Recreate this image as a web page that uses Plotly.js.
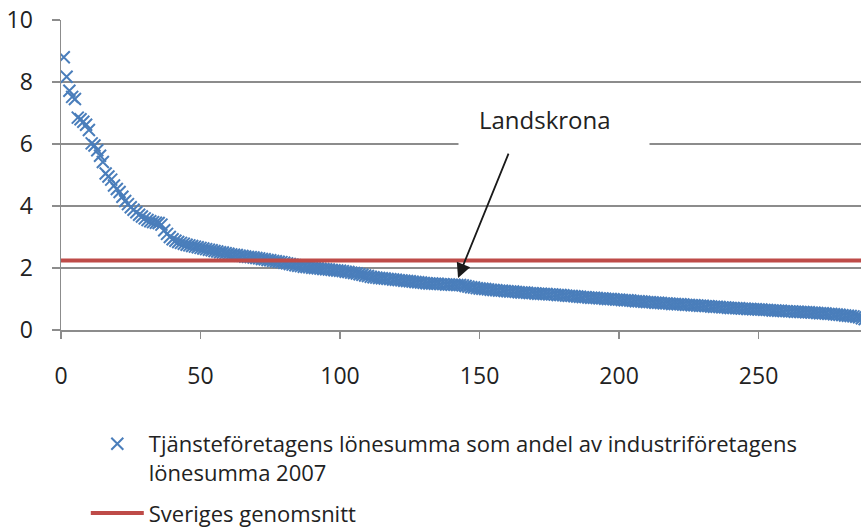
<!DOCTYPE html>
<html>
<head>
<meta charset="utf-8">
<script src="https://cdn.plot.ly/plotly-3.0.1.min.js"></script>
<style>html,body{margin:0;padding:0;background:#fff;}#chart{width:861px;height:528px;}</style>
</head>
<body>
<div id="chart"></div>
<script>
// Tjänsteföretagens lönesumma som andel av industriföretagens lönesumma 2007, kommuner sorterade
const shareValues = [
  8.80, 8.17, 7.72, 7.52, 7.45, 6.85, 6.80, 6.72, 6.62, 6.45,
  6.02, 5.95, 5.80, 5.62, 5.42, 5.05, 4.95, 4.85, 4.66, 4.55,
  4.45, 4.30, 4.16, 4.06, 3.96, 3.88, 3.80, 3.72, 3.66, 3.60,
  3.55, 3.51, 3.48, 3.46, 3.45, 3.40, 3.22, 3.10, 3.00, 2.93,
  2.88, 2.84, 2.81, 2.78, 2.75, 2.73, 2.71, 2.69, 2.67, 2.65,
  2.63, 2.61, 2.59, 2.57, 2.55, 2.53, 2.51, 2.50, 2.48, 2.46,
  2.44, 2.43, 2.42, 2.40, 2.39, 2.37, 2.36, 2.35, 2.34, 2.32,
  2.31, 2.29, 2.28, 2.26, 2.25, 2.23, 2.22, 2.20, 2.19, 2.17,
  2.15, 2.13, 2.11, 2.09, 2.07, 2.06, 2.04, 2.03, 2.02, 2.01,
  2.00, 1.99, 1.98, 1.97, 1.96, 1.95, 1.94, 1.93, 1.92, 1.91,
  1.90, 1.88, 1.87, 1.85, 1.84, 1.82, 1.80, 1.78, 1.76, 1.74,
  1.72, 1.70, 1.69, 1.68, 1.67, 1.66, 1.65, 1.64, 1.63, 1.62,
  1.61, 1.60, 1.59, 1.58, 1.57, 1.56, 1.55, 1.54, 1.53, 1.52,
  1.51, 1.50, 1.50, 1.49, 1.49, 1.48, 1.48, 1.47, 1.47, 1.46,
  1.46, 1.45, 1.45, 1.44, 1.42, 1.40, 1.38, 1.37, 1.35, 1.34,
  1.33, 1.32, 1.31, 1.30, 1.29, 1.28, 1.27, 1.27, 1.26, 1.25,
  1.24, 1.24, 1.23, 1.22, 1.21, 1.21, 1.20, 1.19, 1.19, 1.18,
  1.17, 1.17, 1.16, 1.16, 1.15, 1.15, 1.14, 1.13, 1.13, 1.12,
  1.11, 1.10, 1.10, 1.09, 1.08, 1.07, 1.06, 1.06, 1.05, 1.04,
  1.04, 1.03, 1.02, 1.02, 1.01, 1.00, 1.00, 0.99, 0.98, 0.98,
  0.97, 0.96, 0.96, 0.95, 0.94, 0.93, 0.93, 0.92, 0.91, 0.90,
  0.90, 0.89, 0.88, 0.88, 0.87, 0.86, 0.86, 0.85, 0.84, 0.84,
  0.83, 0.83, 0.82, 0.81, 0.81, 0.80, 0.80, 0.79, 0.78, 0.78,
  0.77, 0.77, 0.76, 0.75, 0.75, 0.74, 0.73, 0.73, 0.72, 0.71,
  0.71, 0.70, 0.70, 0.69, 0.69, 0.68, 0.68, 0.67, 0.67, 0.66,
  0.66, 0.65, 0.65, 0.64, 0.63, 0.63, 0.62, 0.62, 0.61, 0.61,
  0.60, 0.60, 0.59, 0.59, 0.58, 0.58, 0.57, 0.57, 0.56, 0.56,
  0.55, 0.54, 0.54, 0.53, 0.52, 0.52, 0.51, 0.50, 0.49, 0.48,
  0.47, 0.46, 0.45, 0.44, 0.43, 0.41, 0.38, 0.35, 0.31, 0.25
];
const rank = shareValues.map((v, i) => i + 1);
const avgX = [0, 290];
const avgY = [2.24, 2.24];
const xTicks = [0, 50, 100, 150, 200, 250];
const yTicks = [0, 2, 4, 6, 8, 10];
const seriesName = "Tjänsteföretagens lönesumma som andel av industriföretagens<br>lönesumma 2007";
const avgName = "Sveriges genomsnitt";
const labelText = "Landskrona";
const labelPos = {x: 173.5, y: 6.8};
const labelBoxPos = {x: 176.5, y: 6.9};
const arrowHead = {x: 142.3, y: 1.68};
const arrowTail = {x: 160.6, y: 5.74};

const font = "'Open Sans', 'DejaVu Sans', sans-serif";
const grid = "#8c8c8c";

const traces = [
  {
    x: rank, y: shareValues, type: "scatter", mode: "markers", name: seriesName,
    legendgroup: "a",
    marker: {symbol: "x-thin", size: 12, color: "#4A7EBB", line: {width: 2, color: "#4A7EBB"}},
    cliponaxis: true
  },
  {
    x: avgX, y: avgY, type: "scatter", mode: "lines", name: avgName,
    legendgroup: "b",
    line: {color: "#BE4B48", width: 4}
  }
];

const layout = {
  width: 861, height: 528,
  margin: {l: 61, r: 0, t: 20, b: 198, autoexpand: false},
  paper_bgcolor: "#fff", plot_bgcolor: "#fff",
  font: {family: font, size: 22, color: "#222"},
  showlegend: true,
  xaxis: {
    range: [0, 286.7], tickvals: xTicks, ticktext: xTicks.map(String),
    showgrid: false, zeroline: false, showline: true, linecolor: grid, linewidth: 1.5,
    ticks: "outside", ticklen: 7, tickcolor: grid, tickwidth: 1.5, automargin: false,
    ticklabelstandoff: 18, tickfont: {size: 23, color: "#222"}
  },
  yaxis: {
    range: [0, 10], tickvals: yTicks, ticktext: yTicks.map(String),
    showgrid: true, gridcolor: grid, gridwidth: 1.5, zeroline: false,
    showline: true, linecolor: grid, linewidth: 1.5, automargin: false,
    ticks: "outside", ticklen: 8, tickcolor: grid, tickwidth: 1.5,
    ticklabelstandoff: 14, tickfont: {size: 23, color: "#222"}
  },
  legend: {
    x: 0.031, y: -0.3, xanchor: "left", yanchor: "top",
    orientation: "v", valign: "top", itemwidth: 53,
    font: {family: font, size: 22, color: "#222"},
    bgcolor: "rgba(0,0,0,0)", borderwidth: 0, tracegroupgap: 9
  },
  annotations: [
    {
      x: labelBoxPos.x, y: labelBoxPos.y, xref: "x", yref: "y", text: "\u00a0",
      showarrow: false, bgcolor: "#fff", width: 188, height: 56,
      font: {family: font, size: 24, color: "#222"}
    },
    {
      x: labelPos.x, y: labelPos.y, xref: "x", yref: "y", text: labelText,
      showarrow: false,
      font: {family: font, size: 24, color: "#222"}
    },
    {
      x: arrowHead.x, y: arrowHead.y, xref: "x", yref: "y",
      ax: arrowTail.x, ay: arrowTail.y, axref: "x", ayref: "y",
      text: "", showarrow: true, arrowhead: 2, arrowsize: 1.6, arrowwidth: 1.8,
      arrowcolor: "#1a1a1a", standoff: 0, startstandoff: 0
    }
  ]
};

Plotly.newPlot("chart", traces, layout, {staticPlot: true});
</script>
</body>
</html>
